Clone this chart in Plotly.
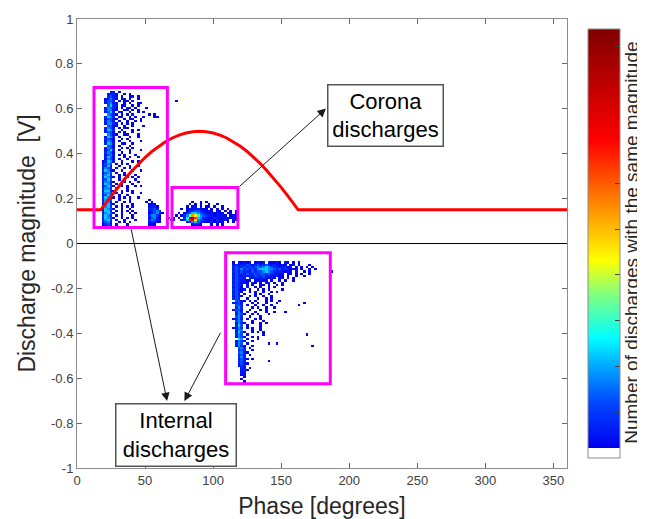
import numpy as np
import plotly.graph_objects as go

# ---------------- data ----------------
PHASE_TICKS = [0, 50, 100, 150, 200, 250, 300, 350]
MAG_TICKS = [-1, -0.8, -0.6, -0.4, -0.2, 0, 0.2, 0.4, 0.6, 0.8, 1]
MAG_TICK_LABELS = ["-1", "-0.8", "-0.6", "-0.4", "-0.2", "0", "0.2", "0.4", "0.6", "0.8", "1"]

# count level code -> number of discharges
LEVEL_CHARS = "123456789abcd"
LEVEL_COUNTS = [1, 2, 3, 5, 7, 9, 11, 14, 18, 22, 26, 30, 34]

PHASE_BIN = 2.0     # degrees
MAG_BIN = 0.01      # V

# internal discharges, positive half-cycle (left phase 16 deg, top 0.68 V)
INT_POS_PHASE0 = 16
INT_POS_MAG_TOP = 0.68
INT_POS_ROWS = [
    "....12.1",
    "...2331..1.1",
    "...3422.1..12.1",
    "..13531.21.1..1",
    "..2443.2.11.2",
    "..24522..1.1..11",
    "...4632.11..1.1",
    "..25431.1.21.1...1",
    "..35521..12.1.1",
    "..2463.21..1..1.1",
    "...5431.1.1.2.....1.1",
    "..3653.12..1.1..1...11",
    "..24421..1.21..1",
    "..3542.1..1..1.1",
    "..25531.2.1.1",
    "...4421..1..1...1",
    "..3542.1.21",
    "..2653..1...1.1",
    "..3441.2.1..1",
    "...5421..11...1",
    "..2653.1...1..1",
    "..3431..1.1",
    "..2541.1...1...1",
    "..3652..21..1",
    "...441.1...1",
    "..3542..1.1.1",
    "..2463.1...1...1",
    "..3541..1..1",
    "..2452.1.1...1",
    "..3642...1.1..1",
    "..2541.1..1",
    ".13652..1...1.1",
    ".2454.1.1.1",
    ".3362..1...1..1",
    ".2543.1..1.1",
    ".36521..1...1..1",
    ".2454.1..1.1",
    ".3563..1.1...1",
    ".26531.1..1.1.1",
    ".3464..1.1...1",
    ".25531...1.1..1",
    ".3653.1.1...1",
    ".24641..1.1..1.1",
    ".3553.1...1",
    ".26631..1.1.1",
    ".3554.1.1...1..1",
    ".2463..1..1",
    ".36531.1.1.1..1",
    ".2554..1...1......1",
    ".3653.1..1.1.....1.1",
    ".24631..1...1.....121",
    ".3563.1.1.1.1.....2231",
    ".26541..1..1......3342",
    ".3663.1.1.1.1.....23453",
    ".25641..1..1.1....124521",
    ".3653.1.1...1.....35531",
    ".26541..1.1.1.....24521",
    ".3563.1..1...1....35421",
    ".2452..1.1.1......23311",
    ".1342.1...1.......121",
    "..12..1",
]

# corona discharges (left phase 66 deg, top 0.19 V)
CORONA_PHASE0 = 66
CORONA_MAG_TOP = 0.19
CORONA_ROWS = [
    ".........1..1.1",
    "........1.1.1..1..1",
    ".......1.12.1.11.1..1",
    ".....1.12223211.1.1.1.1",
    ".......1334432121.11.1.1.1",
    "....1.134665432121211.11.1",
    "...1.1358a975432212121.121",
    "1.1.1.37cdb653221322122121",
    ".11..236bc9543212131221.21",
    ".......23564321131211.1.1",
    ".........1221...1.1.1",
]

# internal discharges, negative half-cycle (left phase 114 deg, top -0.08 V)
INT_NEG_PHASE0 = 114
INT_NEG_MAG_TOP = -0.08
INT_NEG_ROWS = [
    "1.21212.1212.21121.21.1.1",
    "23232432342343232121.12.1...1",
    "3423434345456543322312.1.1.1.1",
    "243534343566655434232121.1..1.1",
    "3424332434456543232121.1..1.1",
    "2433243343443432211.12.1.1..1",
    "3422323243342321211.1..1..1",
    "24332.3223232121.11.1.1",
    "3432212.21211.1..1.1..1",
    "243221.21.1.21.1..1",
    "3422.1.1..11.1..1.1",
    "2431.2..1.1..1.1",
    "34212.1..1.1.1....1",
    "2431..1.1..1..1.1",
    "342.1...1.1..1",
    "2431..1.1..1..1",
    "343..1...1..1.1",
    ".4421.1.1...1.1..1",
    "2342...1.1..1...1",
    ".443.1..1..1..1",
    ".353...1.1..1..1",
    "2442..1...1.1",
    ".353.1..1...1..1",
    ".2541..1.1...1",
    ".453..1...1",
    "1352.1..1.1",
    ".454...1...1",
    ".2531..1..1.1",
    ".364.1....1",
    "1253.1.1..1",
    ".355...1..1",
    ".2641..1.1.1",
    ".354.1.....1",
    ".2541..1.1",
    "..65.1...1",
    ".2542..1",
    ".354.1.......1",
    ".2531..1",
    "..453.1",
    "..343..1",
    "..4521",
    "..343.1",
    "..352",
    "..2431.1",
    "..342",
    "..2421",
    "..232",
    "...32.1",
    "...231",
    "...22",
    "...12",
    "....1",
    "...1",
    "....1",
]

# isolated discharges outside the grids above
ISOLATED_PHASE = [73.0, 186.0, 163.0, 166.0, 152.0, 168.7, 147.0, 172.0, 141.0]
ISOLATED_MAG = [0.634, -0.125, -0.272, -0.268, -0.30, -0.40, -0.445, -0.453, -0.524]
ISOLATED_COUNT = [1, 1, 1, 1, 1, 1, 1, 1, 1]

# reference voltage curve (scaled)
REF_PHASE = [0, 17.5, 20, 25, 30, 35, 40, 45, 50, 55, 60, 65, 70, 75, 80, 85, 90,
             95, 100, 105, 110, 115, 120, 125, 130, 135, 140, 145, 150, 155, 160, 162.5, 360]
REF_LEVEL = [0.15, 0.15, 0.171, 0.211, 0.250, 0.287, 0.321, 0.354, 0.383, 0.410, 0.433,
             0.453, 0.470, 0.483, 0.492, 0.498, 0.500, 0.498, 0.492, 0.483, 0.470, 0.453,
             0.433, 0.410, 0.383, 0.354, 0.321, 0.287, 0.250, 0.211, 0.171, 0.150, 0.15]

# ---------------- build the count matrix ----------------
n_phase = int(round(360 / PHASE_BIN))
n_mag = int(round(2 / MAG_BIN))
phase_centers = [PHASE_BIN * (i + 0.5) for i in range(n_phase)]
mag_centers = [-1 + MAG_BIN * (j + 0.5) for j in range(n_mag)]
Z = np.full((n_mag, n_phase), np.nan)
code = dict(zip(LEVEL_CHARS, LEVEL_COUNTS))


def place(rows, phase0, mag_top):
    c0 = int(round(phase0 / PHASE_BIN))
    r_top = int(round((mag_top + 1) / MAG_BIN)) - 1
    for r, row in enumerate(rows):
        for c, ch in enumerate(row):
            if ch in code:
                Z[r_top - r, c0 + c] = code[ch]


place(INT_POS_ROWS, INT_POS_PHASE0, INT_POS_MAG_TOP)
place(CORONA_ROWS, CORONA_PHASE0, CORONA_MAG_TOP)
place(INT_NEG_ROWS, INT_NEG_PHASE0, INT_NEG_MAG_TOP)
for p, m, n in zip(ISOLATED_PHASE, ISOLATED_MAG, ISOLATED_COUNT):
    Z[int((m + 1) // MAG_BIN), int(p // PHASE_BIN)] = n

# ---------------- figure ----------------
FONT = "Liberation Sans, Arial, sans-serif"
colorscale = [
    [0.0, "#ffffff"], [0.024, "#ffffff"], [0.0241, "#0000f0"], [0.13, "#0048ff"],
    [0.22, "#00b0ff"], [0.28, "#00ffff"], [0.38, "#80ff80"], [0.46, "#ffff00"],
    [0.60, "#ff8000"], [0.74, "#ff0000"], [1.0, "#800000"],
]

fig = go.Figure()
fig.add_trace(go.Heatmap(
    x=phase_centers, y=mag_centers, z=Z,
    colorscale=colorscale, zmin=0, zmax=37.5, hoverinfo="skip",
    colorbar=dict(
        x=1.043, xanchor="left", xpad=0, y=0.5, yanchor="middle", len=1,
        thickness=32, outlinecolor="#8c8c8c", outlinewidth=1,
        tickvals=[4, 8, 12, 16, 20, 24, 28, 32, 36], ticks="inside", ticklen=5,
        tickcolor="#404040", showticklabels=False,
    ),
))
fig.add_trace(go.Scatter(x=REF_PHASE, y=REF_LEVEL, mode="lines",
                         line=dict(color="#ff0000", width=3), showlegend=False,
                         hoverinfo="skip"))

MAGENTA = "#ff00ff"
shapes = [
    dict(type="line", x0=0, x1=360, y0=0, y1=0, line=dict(color="black", width=1)),
    dict(type="rect", x0=12.5, x1=66.4, y0=0.071, y1=0.695, line=dict(color=MAGENTA, width=3)),
    dict(type="rect", x0=69.8, x1=118.2, y0=0.071, y1=0.25, line=dict(color=MAGENTA, width=3)),
    dict(type="rect", x0=109.2, x1=186.1, y0=-0.625, y1=-0.041, line=dict(color=MAGENTA, width=3)),
]

annotations = [
    dict(x=226.8, y=0.570, text="Corona<br>discharges", showarrow=False,
         font=dict(family=FONT, size=22, color="black"), bgcolor="white",
         bordercolor="#555555", borderwidth=1.5, borderpad=2, width=110, height=56),
    dict(x=73.0, y=-0.853, text="Internal<br>discharges", showarrow=False,
         font=dict(family=FONT, size=22, color="black"), bgcolor="white",
         bordercolor="#555555", borderwidth=1.5, borderpad=2, width=115, height=57),
    # colour bar title
    dict(x=1.131, y=0.502, xref="paper", yref="paper", xanchor="center", yanchor="middle",
         text="Number of discharges with the same magnitude", textangle=-90,
         showarrow=False, font=dict(family=FONT, size=19, color="#262626")),
]
for (tx, ty, hx, hy) in [(118.4, 0.249, 182.9, 0.601),
                         (39.6, 0.070, 66.2, -0.702),
                         (106.0, -0.391, 78.9, -0.702)]:
    annotations.append(dict(x=hx, y=hy, ax=tx, ay=ty, axref="x", ayref="y",
                            xref="x", yref="y", text="", showarrow=True,
                            arrowhead=2, arrowsize=1.7, arrowwidth=1, arrowcolor="#1a1a1a"))

axis_common = dict(showgrid=False, zeroline=False, showline=True, linecolor="#8c8c8c",
                   linewidth=1, mirror="ticks", ticks="inside", ticklen=5,
                   tickcolor="#666666", automargin=False,
                   tickfont=dict(family=FONT, size=13, color="#404040"))

# the page body adds an 8px offset, so the figure is 8px smaller than the window
fig.update_layout(
    width=637, height=511,
    margin=dict(l=69, r=78, t=11, b=51, autoexpand=False),
    paper_bgcolor="white", plot_bgcolor="white",
    showlegend=False,
    xaxis=dict(range=[0, 360], tickvals=PHASE_TICKS, **axis_common,
               title=dict(text="Phase [degrees]", standoff=13,
                          font=dict(family=FONT, size=23, color="#262626"))),
    yaxis=dict(range=[-1, 1], tickvals=MAG_TICKS, ticktext=MAG_TICK_LABELS, **axis_common,
               title=dict(text="Discharge magnitude  [V]", standoff=8,
                          font=dict(family=FONT, size=23, color="#262626"))),
    shapes=shapes,
    annotations=annotations,
)

fig.write_html("out.html")
